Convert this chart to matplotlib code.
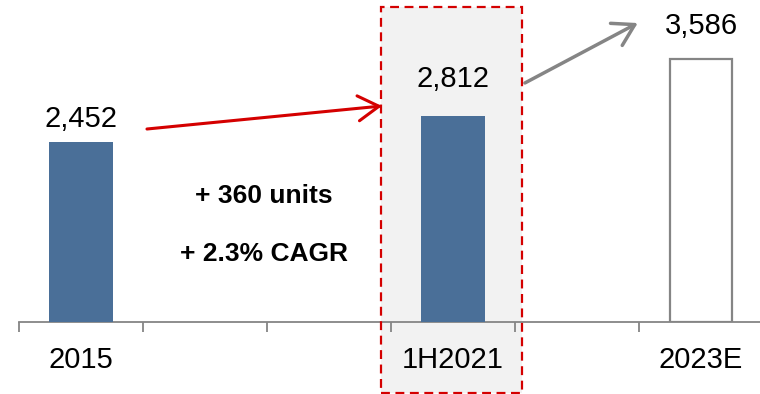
import matplotlib.pyplot as plt
from matplotlib.patches import Rectangle

plt.rcParams['font.family'] = ['Liberation Sans', 'DejaVu Sans']

# six slots on the axis, only three carry a bar
slots = [0, 1, 2, 3, 4, 5]
bar_slots = [0, 3, 5]
periods = ['2015', '1H2021', '2023E']
units = [2452, 2812, 3586]
label_gap = [320, 505, 455]

blue = '#4a6f98'
grey = '#858585'
red = '#d40000'

fig = plt.figure(figsize=(7.6, 3.94), dpi=100)
ax = fig.add_axes([19 / 760, 72 / 394, 744 / 760, 322 / 394])
ax.set_xlim(slots[0] - 0.5, slots[-1] + 0.5)
ax.set_ylim(0, 4393)

# highlighted period box (reaches below the axis)
ax.add_patch(Rectangle((2.42, -968), 1.14, 5265, facecolor='#f2f2f2',
                       edgecolor='none', zorder=0, clip_on=False))
ax.add_patch(Rectangle((2.42, -968), 1.14, 5265, facecolor='none',
                       edgecolor=red, lw=1.6, linestyle=(0, (4, 2.5)),
                       zorder=4, clip_on=False))

# actual bars, forecast bar hollow
ax.bar(bar_slots[:2], units[:2], width=0.51, color=blue, zorder=3)
ax.bar(bar_slots[2], units[2], width=0.5, facecolor='white',
       edgecolor=grey, lw=1.6, zorder=3)

for x, v, g in zip(bar_slots, units, label_gap):
    ax.text(x, v + g, f'{v:,}', ha='center', va='center', fontsize=21)

# growth arrows
ax.annotate('', xy=(2.427, 2947), xytext=(0.532, 2633),
            arrowprops=dict(arrowstyle='->,head_length=0.75,head_width=0.45',
                            color=red, lw=2.2, mutation_scale=20,
                            shrinkA=0, shrinkB=0), annotation_clip=False)
ax.annotate('', xy=(4.49, 4079), xytext=(3.58, 3261),
            arrowprops=dict(arrowstyle='->,head_length=0.75,head_width=0.45',
                            color=grey, lw=2.5, mutation_scale=20,
                            shrinkA=0, shrinkB=0), annotation_clip=False)

ax.text(1.476, 1719, '+ 360 units', ha='center', va='center',
        fontsize=19, fontweight='bold')
ax.text(1.476, 928, '+ 2.3% CAGR', ha='center', va='center',
        fontsize=19, fontweight='bold')

for s in ['top', 'left', 'right']:
    ax.spines[s].set_visible(False)
ax.spines['bottom'].set_color(grey)
ax.spines['bottom'].set_linewidth(1.3)
ax.set_yticks([])

ax.set_xticks([s - 0.5 for s in slots])
ax.set_xticklabels([])
ax.tick_params(axis='x', which='major', length=7, width=1.3, color=grey,
               direction='out')
ax.set_xticks(bar_slots, minor=True)
ax.set_xticklabels(periods, minor=True, fontsize=21)
ax.tick_params(axis='x', which='minor', length=0, pad=17)

fig.savefig('out.png', dpi=100)
